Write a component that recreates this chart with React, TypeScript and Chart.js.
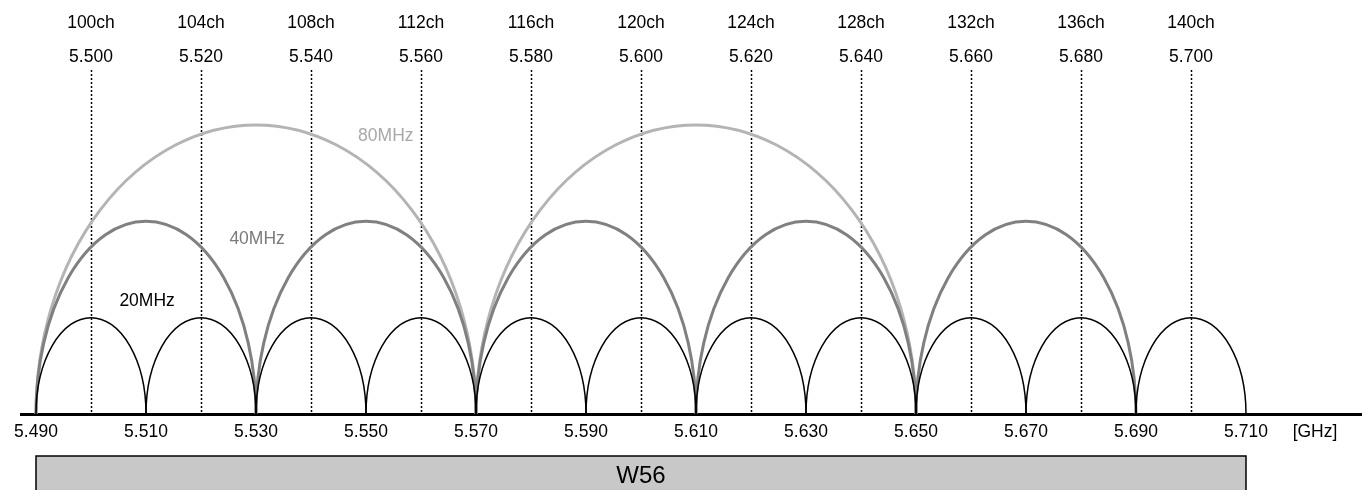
import React, { useEffect, useRef } from "react";
import { Chart, registerables } from "chart.js";

Chart.register(...registerables);

// ---- data ----
const channelNames = ["100ch", "104ch", "108ch", "112ch", "116ch", "120ch", "124ch", "128ch", "132ch", "136ch", "140ch"];
const channelFreqs = [5.5, 5.52, 5.54, 5.56, 5.58, 5.6, 5.62, 5.64, 5.66, 5.68, 5.7];
const axisTicks = [5.49, 5.51, 5.53, 5.55, 5.57, 5.59, 5.61, 5.63, 5.65, 5.67, 5.69, 5.71];
const centers20 = [5.5, 5.52, 5.54, 5.56, 5.58, 5.6, 5.62, 5.64, 5.66, 5.68, 5.7];
const centers40 = [5.51, 5.55, 5.59, 5.63, 5.67];
const centers80 = [5.53, 5.61];
const bandwidths = [0.08, 0.04, 0.02];
const arcHeights = [3, 2, 1];
const bandLabels = ["80MHz", "40MHz", "20MHz"];
const bandName = "W56";
const bandRange = [5.49, 5.71];
const unitLabel = "[GHz]";

// ---- styles ----
const FONT = "'Liberation Sans', Arial, sans-serif";
const FS = 17.5;
const arcColors = ["#b4b4b4", "#808080", "#000000"];
const labelColors = ["#a8a8a8", "#7a7a7a", "#000000"];
const arcWidths = [3, 3, 1.5];
const labelAnchors = [
  { x: 5.5536, y: 2.88 },
  { x: 5.5302, y: 1.81 },
  { x: 5.5102, y: 1.17 },
];

const wifiPlugin = {
  id: "wifiPlugin",
  beforeDatasetsDraw(chart: any) {
    const { ctx, chartArea, scales } = chart;
    const x = scales.x;
    const y = scales.y;
    // dashed channel lines
    ctx.save();
    ctx.strokeStyle = "#000";
    ctx.lineWidth = 1.5;
    ctx.setLineDash([2, 2]);
    channelFreqs.forEach((f) => {
      const px = Math.round(x.getPixelForValue(f)) + 0.5;
      ctx.beginPath();
      ctx.moveTo(px, chartArea.top);
      ctx.lineTo(px, chartArea.bottom);
      ctx.stroke();
    });
    ctx.restore();
    // arcs
    const base = y.getPixelForValue(0);
    chart.data.datasets.forEach((ds: any) => {
      ctx.save();
      ctx.strokeStyle = ds.borderColor;
      ctx.lineWidth = ds.borderWidth;
      ds.data.forEach((p: any) => {
        const cx = x.getPixelForValue(p.x);
        const rx = x.getPixelForValue(p.x + ds.bandwidth / 2) - cx;
        const ry = base - y.getPixelForValue(p.y);
        ctx.beginPath();
        ctx.ellipse(cx, base, rx, ry, 0, Math.PI, 2 * Math.PI);
        ctx.stroke();
      });
      ctx.restore();
    });
  },
  afterDraw(chart: any) {
    const { ctx, chartArea, scales } = chart;
    const x = scales.x;
    const y = scales.y;
    ctx.save();
    ctx.font = `${FS}px ${FONT}`;
    ctx.textAlign = "center";
    ctx.textBaseline = "middle";
    ctx.fillStyle = "#000";
    channelFreqs.forEach((f, i) => {
      const px = x.getPixelForValue(f);
      ctx.fillText(channelNames[i], px, 23);
      ctx.fillText(f.toFixed(3), px, 57);
    });
    // band labels
    bandLabels.forEach((t, i) => {
      ctx.fillStyle = labelColors[i];
      ctx.fillText(t, x.getPixelForValue(labelAnchors[i].x), y.getPixelForValue(labelAnchors[i].y));
    });
    // unit
    ctx.fillStyle = "#000";
    ctx.fillText(unitLabel, 1315, chartArea.bottom + 18.5);
    // W56 box
    const x0 = x.getPixelForValue(bandRange[0]);
    const x1 = x.getPixelForValue(bandRange[1]);
    const top = 456;
    ctx.fillStyle = "#c8c8c8";
    ctx.fillRect(x0, top, x1 - x0, 60);
    ctx.strokeStyle = "#000";
    ctx.lineWidth = 1.5;
    ctx.strokeRect(x0, top, x1 - x0, 60);
    ctx.fillStyle = "#000";
    ctx.font = `24px ${FONT}`;
    ctx.fillText(bandName, (x0 + x1) / 2, 476);
    ctx.restore();
  },
};

export default function App() {
  const ref = useRef<HTMLCanvasElement | null>(null);
  useEffect(() => {
    if (!ref.current) return;
    const chart = new Chart(ref.current, {
      type: "scatter",
      data: {
        datasets: [centers80, centers40, centers20].map((centers, i) => ({
          label: bandLabels[i],
          data: centers.map((c) => ({ x: c, y: arcHeights[i] })),
          bandwidth: bandwidths[i],
          borderColor: arcColors[i],
          backgroundColor: arcColors[i],
          borderWidth: arcWidths[i],
          pointRadius: 0,
          showLine: false,
        })) as any,
      },
      options: {
        responsive: false,
        animation: false,
        events: [],
        layout: { padding: { left: 21, right: 0, top: 70, bottom: 39 } },
        plugins: { legend: { display: false }, tooltip: { enabled: false } },
        scales: {
          x: {
            type: "linear",
            position: "bottom",
            min: 5.487273,
            max: 5.731091,
            grid: { display: false, drawTicks: false },
            border: { display: true, color: "#000", width: 3 },
            afterBuildTicks: (s: any) => {
              s.ticks = axisTicks.map((v) => ({ value: v }));
            },
            ticks: {
              color: "#000",
              font: { family: FONT, size: FS },
              padding: 8,
              autoSkip: false,
              maxRotation: 0,
              callback: (v: any) => Number(v).toFixed(3),
            },
          },
          y: { display: false, min: 0, max: 3.57 },
        },
      },
      plugins: [wifiPlugin],
    });
    return () => chart.destroy();
  }, []);
  return (
    <div style={{ position: "fixed", left: 0, top: 0, width: 1362, height: 490, background: "#fff" }}>
      <canvas ref={ref} width={1362} height={490} style={{ display: "block" }} />
    </div>
  );
}
